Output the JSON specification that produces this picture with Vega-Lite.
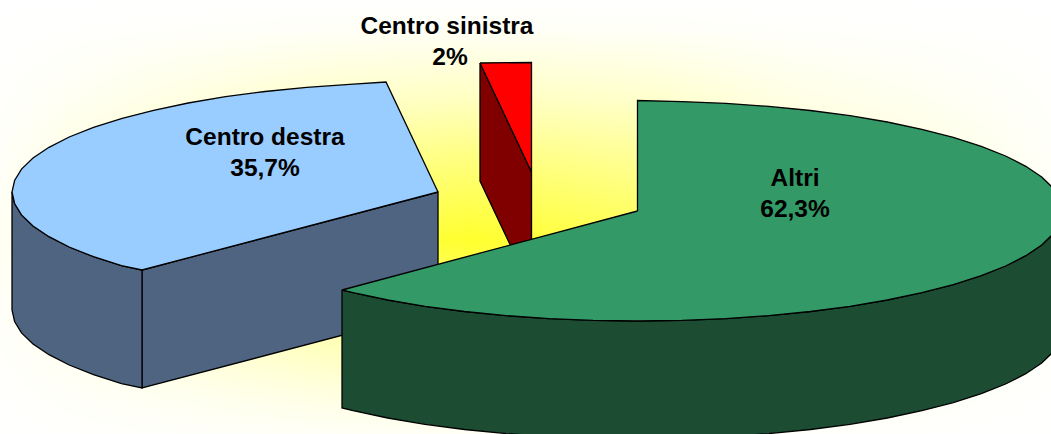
{"$schema":"https://vega.github.io/schema/vega-lite/v6.json","width":1051,"height":434,"padding":0,"autosize":{"type":"fit","contains":"padding"},"background":"white","config":{"view":{"stroke":null}},
"datasets":{"glow":[{"x":0,"x2":1051,"y":0,"y2":434}],
"shapes":[
{"part":"red side","i":0,"x":480,"y":63},{"part":"red side","i":1,"x":531.5,"y":172},{"part":"red side","i":2,"x":531.5,"y":290},{"part":"red side","i":3,"x":480,"y":181},{"part":"red side","i":4,"x":480,"y":63},
{"part":"red top","i":0,"x":480,"y":63},{"part":"red top","i":1,"x":531.5,"y":62.5},{"part":"red top","i":2,"x":531.5,"y":172},{"part":"red top","i":3,"x":480,"y":63},
{"part":"blue inner","i":0,"x":142,"y":270},{"part":"blue inner","i":1,"x":438,"y":192},{"part":"blue inner","i":2,"x":438,"y":310},{"part":"blue inner","i":3,"x":142,"y":388},{"part":"blue inner","i":4,"x":142,"y":270},
{"part":"blue outer","i":0,"x":12,"y":192},{"part":"blue outer","i":1,"x":14.6,"y":203.5},{"part":"blue outer","i":2,"x":21.5,"y":214.9},{"part":"blue outer","i":3,"x":33,"y":226},{"part":"blue outer","i":4,"x":49,"y":236.7},{"part":"blue outer","i":5,"x":69.2,"y":247},{"part":"blue outer","i":6,"x":93.5,"y":256.7},{"part":"blue outer","i":7,"x":121.5,"y":265.6},{"part":"blue outer","i":8,"x":142,"y":270},{"part":"blue outer","i":9,"x":142,"y":388},{"part":"blue outer","i":10,"x":121.5,"y":383.6},{"part":"blue outer","i":11,"x":93.5,"y":374.7},{"part":"blue outer","i":12,"x":69.2,"y":365},{"part":"blue outer","i":13,"x":49,"y":354.7},{"part":"blue outer","i":14,"x":33,"y":344},{"part":"blue outer","i":15,"x":21.5,"y":332.9},{"part":"blue outer","i":16,"x":14.6,"y":321.5},{"part":"blue outer","i":17,"x":12,"y":310},{"part":"blue outer","i":18,"x":12,"y":192},
{"part":"blue top","i":0,"x":438,"y":192},{"part":"blue top","i":1,"x":386,"y":82},{"part":"blue top","i":2,"x":349.6,"y":84.4},{"part":"blue top","i":3,"x":306.7,"y":87.4},{"part":"blue top","i":4,"x":265.1,"y":91.5},{"part":"blue top","i":5,"x":225.5,"y":96.7},{"part":"blue top","i":6,"x":188.2,"y":103},{"part":"blue top","i":7,"x":153.6,"y":110.3},{"part":"blue top","i":8,"x":122.2,"y":118.4},{"part":"blue top","i":9,"x":93.5,"y":127.3},{"part":"blue top","i":10,"x":69.2,"y":137},{"part":"blue top","i":11,"x":49,"y":147.3},{"part":"blue top","i":12,"x":33,"y":158},{"part":"blue top","i":13,"x":21.5,"y":169.1},{"part":"blue top","i":14,"x":14.6,"y":180.5},{"part":"blue top","i":15,"x":12,"y":192},{"part":"blue top","i":16,"x":14.6,"y":203.5},{"part":"blue top","i":17,"x":21.5,"y":214.9},{"part":"blue top","i":18,"x":33,"y":226},{"part":"blue top","i":19,"x":49,"y":236.7},{"part":"blue top","i":20,"x":69.2,"y":247},{"part":"blue top","i":21,"x":93.5,"y":256.7},{"part":"blue top","i":22,"x":121.5,"y":265.6},{"part":"blue top","i":23,"x":142,"y":270},{"part":"blue top","i":24,"x":438,"y":192},
{"part":"green side","i":0,"x":342,"y":290},{"part":"green side","i":1,"x":353.1,"y":292.7},{"part":"green side","i":2,"x":387.7,"y":300},{"part":"green side","i":3,"x":425,"y":306.3},{"part":"green side","i":4,"x":464.6,"y":311.5},{"part":"green side","i":5,"x":506.2,"y":315.6},{"part":"green side","i":6,"x":549.1,"y":318.6},{"part":"green side","i":7,"x":593.1,"y":320.4},{"part":"green side","i":8,"x":637.5,"y":321},{"part":"green side","i":9,"x":681.9,"y":320.4},{"part":"green side","i":10,"x":725.9,"y":318.6},{"part":"green side","i":11,"x":768.8,"y":315.6},{"part":"green side","i":12,"x":810.4,"y":311.5},{"part":"green side","i":13,"x":850,"y":306.3},{"part":"green side","i":14,"x":887.3,"y":300},{"part":"green side","i":15,"x":921.9,"y":292.7},{"part":"green side","i":16,"x":953.3,"y":284.6},{"part":"green side","i":17,"x":981.3,"y":275.7},{"part":"green side","i":18,"x":1005.6,"y":266},{"part":"green side","i":19,"x":1025.8,"y":255.7},{"part":"green side","i":20,"x":1041.7,"y":245},{"part":"green side","i":21,"x":1053.2,"y":233.9},{"part":"green side","i":22,"x":1060.2,"y":222.5},{"part":"green side","i":23,"x":1062.5,"y":211},{"part":"green side","i":24,"x":1062.5,"y":329},{"part":"green side","i":25,"x":1060.2,"y":340.5},{"part":"green side","i":26,"x":1053.2,"y":351.9},{"part":"green side","i":27,"x":1041.7,"y":363},{"part":"green side","i":28,"x":1025.8,"y":373.7},{"part":"green side","i":29,"x":1005.6,"y":384},{"part":"green side","i":30,"x":981.3,"y":393.7},{"part":"green side","i":31,"x":953.3,"y":402.6},{"part":"green side","i":32,"x":921.9,"y":410.7},{"part":"green side","i":33,"x":887.3,"y":418},{"part":"green side","i":34,"x":850,"y":424.3},{"part":"green side","i":35,"x":810.4,"y":429.5},{"part":"green side","i":36,"x":768.8,"y":433.6},{"part":"green side","i":37,"x":725.9,"y":436.6},{"part":"green side","i":38,"x":681.9,"y":438.4},{"part":"green side","i":39,"x":637.5,"y":439},{"part":"green side","i":40,"x":593.1,"y":438.4},{"part":"green side","i":41,"x":549.1,"y":436.6},{"part":"green side","i":42,"x":506.2,"y":433.6},{"part":"green side","i":43,"x":464.6,"y":429.5},{"part":"green side","i":44,"x":425,"y":424.3},{"part":"green side","i":45,"x":387.7,"y":418},{"part":"green side","i":46,"x":353.1,"y":410.7},{"part":"green side","i":47,"x":342,"y":408},{"part":"green side","i":48,"x":342,"y":290},
{"part":"green top","i":0,"x":637.5,"y":211},{"part":"green top","i":1,"x":342,"y":290},{"part":"green top","i":2,"x":353.1,"y":292.7},{"part":"green top","i":3,"x":387.7,"y":300},{"part":"green top","i":4,"x":425,"y":306.3},{"part":"green top","i":5,"x":464.6,"y":311.5},{"part":"green top","i":6,"x":506.2,"y":315.6},{"part":"green top","i":7,"x":549.1,"y":318.6},{"part":"green top","i":8,"x":593.1,"y":320.4},{"part":"green top","i":9,"x":637.5,"y":321},{"part":"green top","i":10,"x":681.9,"y":320.4},{"part":"green top","i":11,"x":725.9,"y":318.6},{"part":"green top","i":12,"x":768.8,"y":315.6},{"part":"green top","i":13,"x":810.4,"y":311.5},{"part":"green top","i":14,"x":850,"y":306.3},{"part":"green top","i":15,"x":887.3,"y":300},{"part":"green top","i":16,"x":921.9,"y":292.7},{"part":"green top","i":17,"x":953.3,"y":284.6},{"part":"green top","i":18,"x":981.3,"y":275.7},{"part":"green top","i":19,"x":1005.6,"y":266},{"part":"green top","i":20,"x":1025.8,"y":255.7},{"part":"green top","i":21,"x":1041.7,"y":245},{"part":"green top","i":22,"x":1053.2,"y":233.9},{"part":"green top","i":23,"x":1060.2,"y":222.5},{"part":"green top","i":24,"x":1062.5,"y":211},{"part":"green top","i":25,"x":1060.2,"y":199.5},{"part":"green top","i":26,"x":1053.2,"y":188.1},{"part":"green top","i":27,"x":1041.7,"y":177},{"part":"green top","i":28,"x":1025.8,"y":166.3},{"part":"green top","i":29,"x":1005.6,"y":156},{"part":"green top","i":30,"x":981.3,"y":146.3},{"part":"green top","i":31,"x":953.3,"y":137.4},{"part":"green top","i":32,"x":921.9,"y":129.3},{"part":"green top","i":33,"x":887.3,"y":122},{"part":"green top","i":34,"x":850,"y":115.7},{"part":"green top","i":35,"x":810.4,"y":110.5},{"part":"green top","i":36,"x":768.8,"y":106.4},{"part":"green top","i":37,"x":725.9,"y":103.4},{"part":"green top","i":38,"x":681.9,"y":101.6},{"part":"green top","i":39,"x":637.5,"y":100.5},{"part":"green top","i":40,"x":637.5,"y":211}
],
"labels":[{"t":"Centro sinistra","x":447,"y":26.5},{"t":"2%","x":450,"y":57.5},{"t":"Centro destra","x":265,"y":137.5},{"t":"35,7%","x":265,"y":168.5},{"t":"Altri","x":795,"y":178.5},{"t":"62,3%","x":795,"y":209.5}]},
"layer":[
{"data":{"name":"glow"},"mark":{"type":"rect","fill":{"gradient":"linear","x1":0,"y1":0,"x2":0,"y2":1,"stops":[{"offset":0,"color":"#FFFFFF"},{"offset":0.07,"color":"#FFFFF5"},{"offset":0.138,"color":"#FFFFE0"},{"offset":0.23,"color":"#FFFFC0"},{"offset":0.346,"color":"#FFFF88"},{"offset":0.46,"color":"#FFFF55"},{"offset":0.553,"color":"#FFFF2E"},{"offset":0.668,"color":"#FFFF66"},{"offset":0.783,"color":"#FFFFA8"},{"offset":0.92,"color":"#FFFFE0"},{"offset":1,"color":"#FFFFF5"}]}},"encoding":{"x":{"field":"x","type":"quantitative","scale":{"domain":[0,1051],"nice":false,"zero":false},"axis":null},"x2":{"field":"x2"},"y":{"field":"y","type":"quantitative","scale":{"domain":[434,0],"nice":false,"zero":false},"axis":null},"y2":{"field":"y2"}}},
{"data":{"name":"glow"},"mark":{"type":"rect","fill":{"gradient":"linear","x1":0,"y1":0,"x2":1,"y2":0,"stops":[{"offset":0,"color":"rgba(255,255,255,0.95)"},{"offset":0.048,"color":"rgba(255,255,255,0.85)"},{"offset":0.19,"color":"rgba(255,255,255,0.5)"},{"offset":0.319,"color":"rgba(255,255,255,0.15)"},{"offset":0.447,"color":"rgba(255,255,255,0)"},{"offset":0.618,"color":"rgba(255,255,255,0.18)"},{"offset":0.761,"color":"rgba(255,255,255,0.6)"},{"offset":0.951,"color":"rgba(255,255,255,0.88)"},{"offset":1,"color":"rgba(255,255,255,0.95)"}]}},"encoding":{"x":{"field":"x","type":"quantitative","axis":null},"x2":{"field":"x2"},"y":{"field":"y","type":"quantitative","axis":null},"y2":{"field":"y2"}}},
{"data":{"name":"shapes"},"mark":{"type":"line","filled":true,"stroke":"#000000","strokeWidth":1.3,"strokeJoin":"miter","clip":true,"opacity":1},"encoding":{"x":{"field":"x","type":"quantitative","axis":null},"y":{"field":"y","type":"quantitative","axis":null},"order":{"field":"i","type":"quantitative"},"fill":{"field":"part","type":"nominal","legend":null,"scale":{"domain":["red side","red top","blue inner","blue outer","blue top","green side","green top"],"range":["#800000","#FF0000","#4F6480","#4F6480","#99CCFF","#1C4D33","#339966"]}}}},
{"data":{"name":"labels"},"mark":{"type":"text","font":"Liberation Sans","fontWeight":"bold","fontSize":24.5,"color":"#000000","align":"center","baseline":"middle"},"encoding":{"x":{"field":"x","type":"quantitative","axis":null},"y":{"field":"y","type":"quantitative","axis":null},"text":{"field":"t","type":"nominal"}}}
]}
